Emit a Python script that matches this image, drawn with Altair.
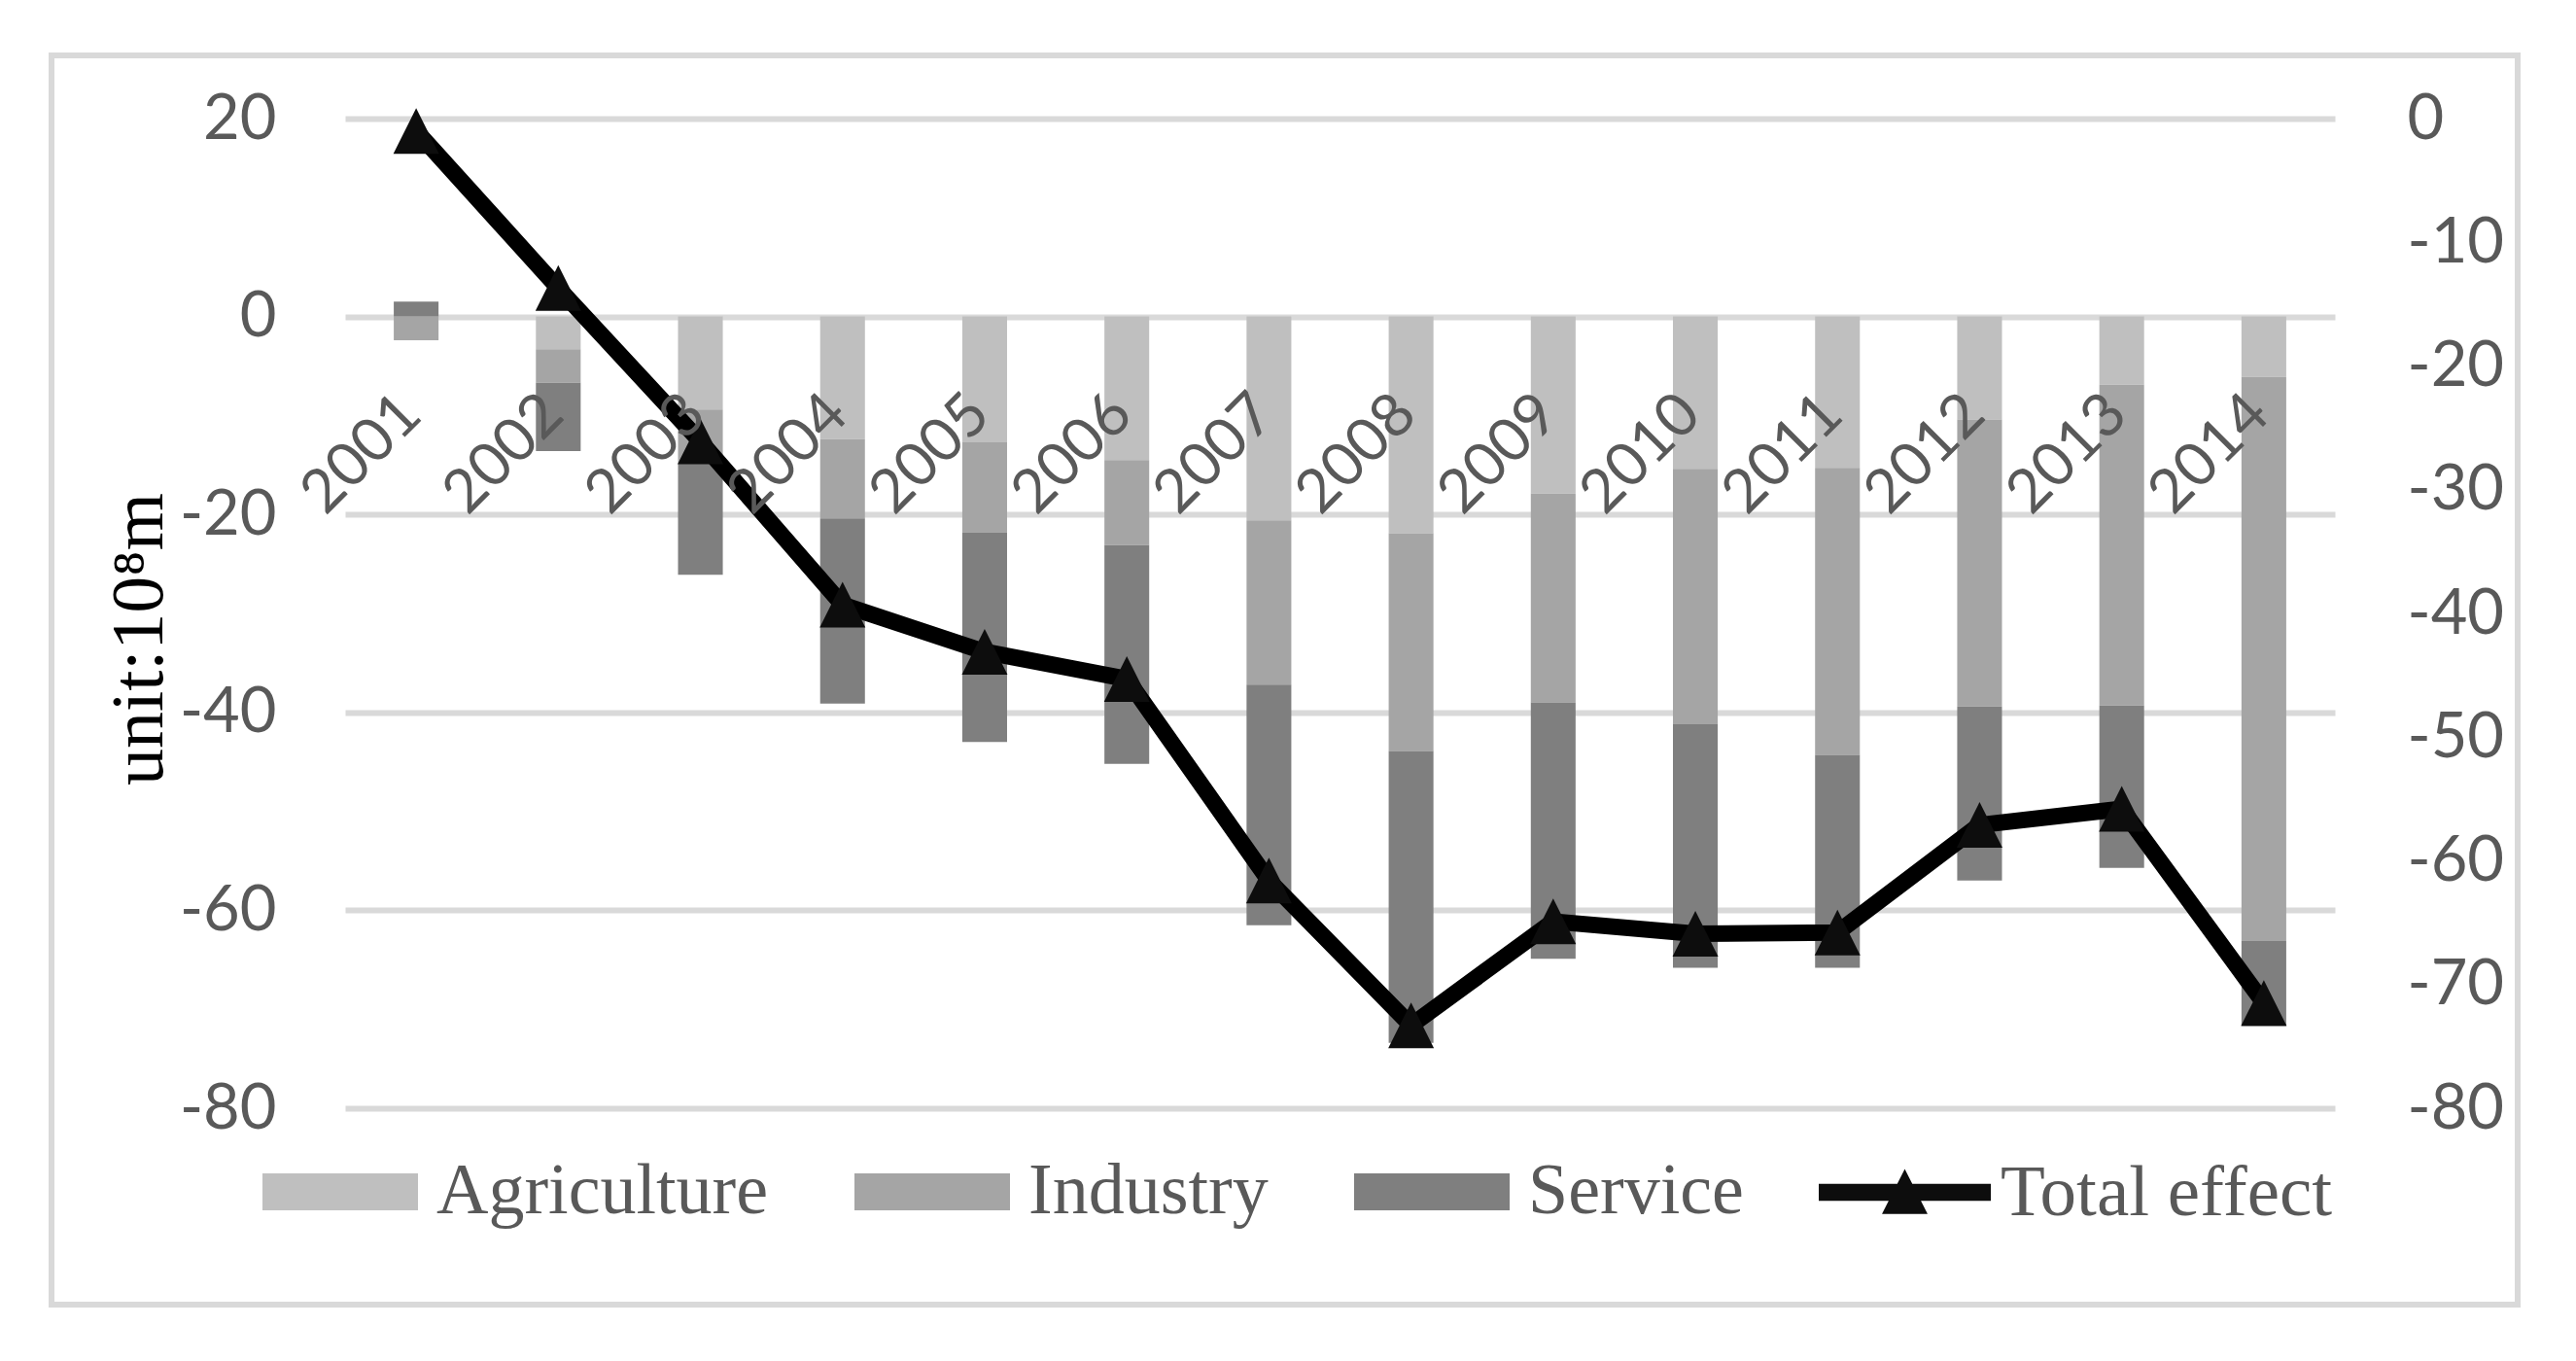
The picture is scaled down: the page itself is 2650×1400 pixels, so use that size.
import altair as alt
import pandas as pd

# ---------------- data ----------------
years = ["2001", "2002", "2003", "2004", "2005", "2006", "2007",
         "2008", "2009", "2010", "2011", "2012", "2013", "2014"]
agriculture = [0.0, -3.3, -9.4, -12.4, -12.7, -14.5, -20.6,
               -21.9, -17.9, -15.4, -15.3, -10.4, -6.9, -6.1]
industry = [-2.4, -3.4, -5.4, -8.0, -9.1, -8.6, -16.6,
            -22.0, -21.1, -25.8, -29.0, -29.0, -32.4, -57.0]
service = [1.5, -6.9, -11.3, -18.7, -21.2, -22.1, -24.3,
           -29.5, -25.9, -24.6, -21.5, -17.6, -16.4, -8.6]
total_effect = [-1.0, -13.7, -26.1, -39.3, -43.1, -45.3, -61.6,
                -73.3, -64.9, -65.9, -65.8, -57.1, -55.8, -71.5]
sectors = ["Agriculture", "Industry", "Service"]
sector_colors = ["#bfbfbf", "#a5a5a5", "#7f7f7f"]
left_ticks = [20, 0, -20, -40, -60, -80]
right_ticks = [0, -10, -20, -30, -40, -50, -60, -70, -80]

rows = []
for k, (name, vals) in enumerate(zip(sectors, [agriculture, industry, service])):
    for yr, v in zip(years, vals):
        rows.append({"year": yr, "sector": name, "order": k, "value": v})
bars_df = pd.DataFrame(rows)
line_df = pd.DataFrame({"year": years, "series": "Total effect", "total": total_effect})

# ---------------- style ----------------
W, H = 2047, 1018
SANS = "Lato"
SERIF = "Liberation Serif"
TXT = "#595959"
GRID = "#d9d9d9"
Y0 = 20 / 100 * H  # pixel position of value 0 on the left scale
PLAIN = "toString(datum.value)"  # hyphen-minus like the reference

x_enc = alt.X(
    "year:N", sort=years,
    scale=alt.Scale(paddingInner=0.685, paddingOuter=0.3425),
    axis=alt.Axis(orient="bottom", offset=-(H - Y0), labelAngle=315,
                  labelAlign="right", labelBaseline="middle",
                  labelPadding=90, labelOffset=-5, ticks=False, tickSize=0,
                  domain=False, grid=False, title=None, labelOverlap=False,
                  labelFont=SANS, labelFontSize=62, labelColor=TXT, zindex=1),
)

border = alt.Chart(pd.DataFrame({"a": [0]})).mark_rect(
    fill=None, stroke=GRID, strokeWidth=6
).encode(
    x=alt.value(-302), x2=alt.value(2235), y=alt.value(-65), y2=alt.value(1220)
)

bars = alt.Chart(bars_df).mark_bar().encode(
    x=x_enc,
    y=alt.Y("value:Q", stack="zero",
            scale=alt.Scale(domain=[-80, 20], nice=False, zero=False),
            axis=alt.Axis(orient="left", values=left_ticks, grid=True,
                          gridColor=GRID, gridWidth=6, domain=False, ticks=False,
                          labelPadding=71, labelFont=SANS, labelFontSize=65,
                          labelColor=TXT, labelExpr=PLAIN,
                          title="unit:10⁸m", titleFont=SERIF,
                          titleFontSize=76, titleFontWeight="normal",
                          titleColor="black", titleAngle=270, titleX=-189,
                          titleY=535, titleBaseline="alphabetic",
                          titleAlign="center")),
    color=alt.Color("sector:N",
                    scale=alt.Scale(domain=sectors, range=sector_colors),
                    legend=alt.Legend(orient="none", legendX=-85, legendY=1024,
                                      direction="horizontal", title=None,
                                      symbolType="M-1,-0.2375H1V0.2375H-1Z",
                                      symbolSize=25600, symbolStrokeWidth=0,
                                      labelFont=SERIF, labelFontSize=74,
                                      labelColor=TXT, labelOffset=19,
                                      columnPadding=88, padding=0,
                                      symbolOffset=0, labelLimit=0)),
    order=alt.Order("order:Q"),
)

y_right = alt.Y("total:Q", scale=alt.Scale(domain=[-80, 0], nice=False, zero=False),
                axis=alt.Axis(orient="right", values=right_ticks, grid=False,
                              domain=False, ticks=False, labelPadding=74,
                              labelFont=SANS, labelFontSize=65, labelColor=TXT,
                              labelExpr=PLAIN, title=None))

line = alt.Chart(line_df).mark_line(
    color="black", strokeWidth=17, strokeJoin="round"
).encode(x=alt.X("year:N", sort=years), y=y_right)

points = alt.Chart(line_df).mark_point(
    shape="M0,-1L1,1H-1Z", filled=True, size=2209, opacity=1, strokeWidth=0
).encode(
    x=alt.X("year:N", sort=years),
    y=alt.Y("total:Q"),
    color=alt.Color("series:N",
                    scale=alt.Scale(domain=["Total effect"], range=["#0d0d0d"]),
                    legend=alt.Legend(orient="none", legendX=1516, legendY=1016,
                                      title=None,
                                      symbolType="M-1,-0.1H1V0.1H-1ZM0,-0.27L0.265,0.25H-0.265Z",
                                      symbolSize=31329, symbolStrokeWidth=0,
                                      labelFont=SERIF, labelFontSize=75,
                                      labelColor=TXT, labelOffset=10,
                                      padding=0, symbolOffset=0, labelLimit=0)),
)

chart = alt.layer(border, bars, alt.layer(line, points)).resolve_scale(
    y="independent", color="independent"
).properties(
    width=W, height=H,
    autosize=alt.AutoSizeParams(type="none"),
    padding={"left": 347, "top": 114, "right": 240, "bottom": 252},
    background="white",
).configure_view(stroke=None)

chart.save("out.html", embed_options={"renderer": "svg", "actions": False})
